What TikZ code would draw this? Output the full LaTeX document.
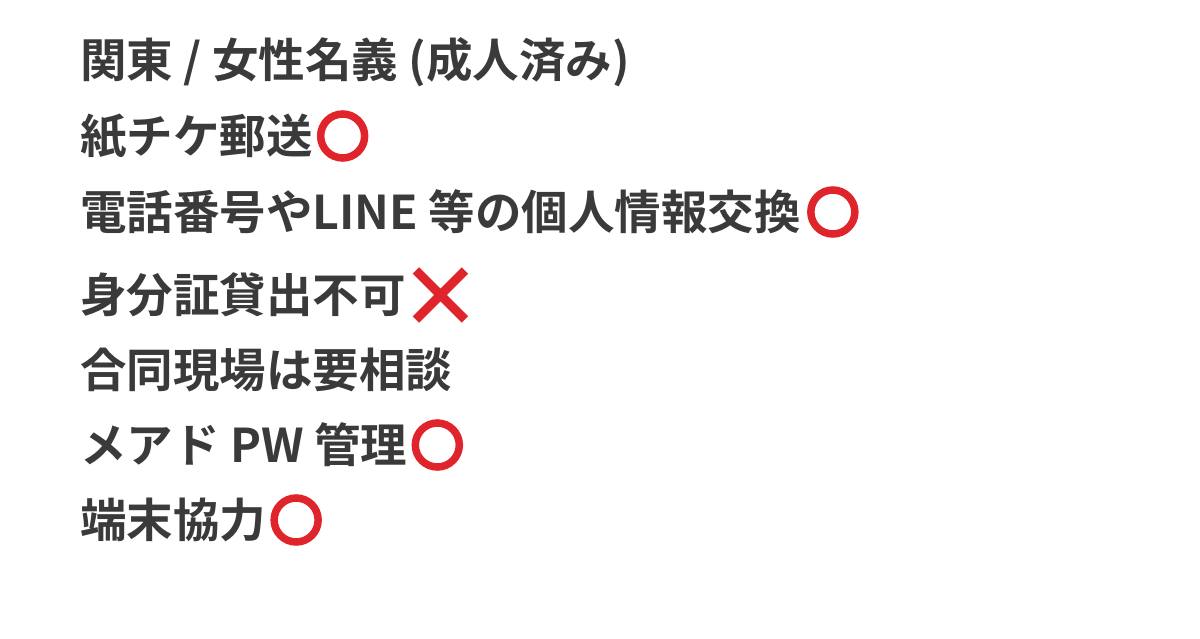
\documentclass[tikz,border=0pt]{standalone}
\usepackage{fontspec}
\newfontfamily\cjk{Noto Sans CJK JP}[BoldFont={Noto Sans CJK JP Bold}]
\usetikzlibrary{shapes.misc}
\definecolor{txt}{HTML}{3A3A3A}
\definecolor{emr}{HTML}{E0242B}
\begin{document}
\begin{tikzpicture}[x=1pt,y=-1pt,
  line/.style={anchor=west,inner sep=0pt,text=txt,font=\cjk\bfseries\fontsize{46.5}{52}\selectfont},
  ok/.style={circle,draw=emr,line width=7.5pt,minimum size=44pt,inner sep=0pt,anchor=west},
  ng/.style={cross out,draw=emr,line width=9pt,minimum size=40pt,inner sep=0pt,anchor=west}]
\useasboundingbox (0,0) rectangle (1200,639);
\node[line] (l1) at (80,62) {関東 / 女性名義 (成人済み)};
\node[line] (l2) at (80,136) {紙チケ郵送};
\node[ok] (o2) at ([xshift=4pt]l2.east) {};
\node[line] (l3) at (80,212) {電話番号やLINE 等の個人情報交換};
\node[ok] (o3) at ([xshift=6pt]l3.east) {};
\node[line] (l4) at (80,295) {身分証貸出不可};
\node[ng] (x4) at ([xshift=10pt]l4.east) {};
\node[line] (l5) at (80,370) {合同現場は要相談};
\node[line] (l6) at (80,445) {メアド PW 管理};
\node[ok] (o6) at ([xshift=4pt]l6.east) {};
\node[line] (l7) at (80,520) {端末協力};
\node[ok] (o7) at ([xshift=4pt]l7.east) {};
\end{tikzpicture}
\end{document}
